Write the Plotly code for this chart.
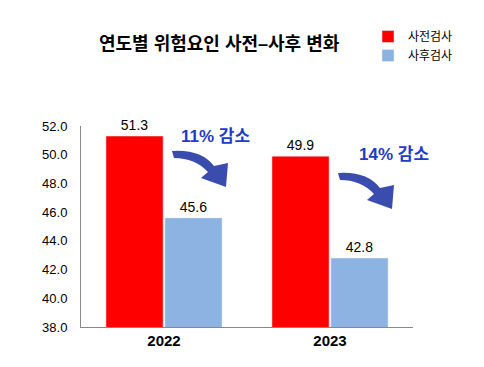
import plotly.graph_objects as go

years = ["2022", "2023"]
pre_values = [51.3, 49.9]
post_values = [45.6, 42.8]
series_names = ["사전검사", "사후검사"]
change_labels = ["11% 감소", "14% 감소"]
y_ticks = [38, 40, 42, 44, 46, 48, 50, 52]

W, H = 484, 367
L, R, T, B = 81, 71, 126, 40
PW, PH = W - L - R, H - T - B

def px(x, y):
    return (x - L) / PW, (H - B - y) / PH

def arrow_path(dx, dy):
    pts = {
        "a": (172, 151), "c1": (201, 149), "b": (214, 166),
        "rw": (228, 163), "tip": (226, 187), "lw": (201, 178),
        "d": (208, 172), "c2": (195, 158), "e": (174, 158),
    }
    p = {k: px(v[0] + dx, v[1] + dy) for k, v in pts.items()}
    f = lambda k: f"{p[k][0]:.4f},{p[k][1]:.4f}"
    return (f"M {f('a')} Q {f('c1')} {f('b')} L {f('rw')} L {f('tip')} "
            f"L {f('lw')} L {f('d')} Q {f('c2')} {f('e')} Z")

fig = go.Figure()
fig.add_bar(x=years, y=pre_values, name=series_names[0], marker_color="#FF0000",
            text=[f"{v:.1f}" for v in pre_values], textposition="outside",
            textfont=dict(size=14, color="black"), cliponaxis=False)
fig.add_bar(x=years, y=post_values, name=series_names[1], marker_color="#8DB3E2",
            text=[f"{v:.1f}" for v in post_values], textposition="outside",
            textfont=dict(size=14, color="black"), cliponaxis=False)

shapes = []
for dx, dy in [(0, 0), (166, 22)]:
    shapes.append(dict(type="path", xref="paper", yref="paper", path=arrow_path(dx, dy),
                       fillcolor="#3A4DAE", line=dict(width=0)))

annotations = []
for lab, (x, y) in zip(change_labels, [(215, 136), (394, 154)]):
    ax, ay = px(x, y)
    annotations.append(dict(text=f"<b>{lab}</b>", x=ax, y=ay, xref="paper", yref="paper",
                            xanchor="center", yanchor="middle",
                            showarrow=False, font=dict(size=17, color="#1F3BC8")))

tx, ty = px(219, 44)
annotations.append(dict(text="<b>연도별 위험요인 사전–사후 변화</b>", x=tx, y=ty,
                        xref="paper", yref="paper", showarrow=False,
                        xanchor="center", yanchor="middle",
                        font=dict(size=18, color="black")))

lx, ly = px(368, 22)
fig.update_layout(
    width=W, height=H,
    margin=dict(l=L, r=R, t=T, b=B, autoexpand=False),
    plot_bgcolor="white", paper_bgcolor="white",
    font=dict(family="Arial, Liberation Sans, Noto Sans CJK KR", color="black"),
    barmode="group", bargap=0.29, bargroupgap=0.03,
    showlegend=True,
    legend=dict(x=lx, y=ly, xanchor="left", yanchor="top", font=dict(size=12),
                bgcolor="rgba(0,0,0,0)", itemwidth=30, tracegroupgap=0),
    xaxis=dict(showline=True, linecolor="#888888", linewidth=1, ticks="",
               tickfont=dict(size=15, weight="bold"), showgrid=False),
    yaxis=dict(range=[38, 52], tickvals=y_ticks, tickformat=".1f", showline=True,
               linecolor="#888888", linewidth=1, ticks="", showgrid=False,
               zeroline=False, tickfont=dict(size=13), ticklabelstandoff=10),
    shapes=shapes, annotations=annotations,
)
fig.write_html("out.html", post_script="document.body.style.margin='0';",
               config={"displayModeBar": False})
